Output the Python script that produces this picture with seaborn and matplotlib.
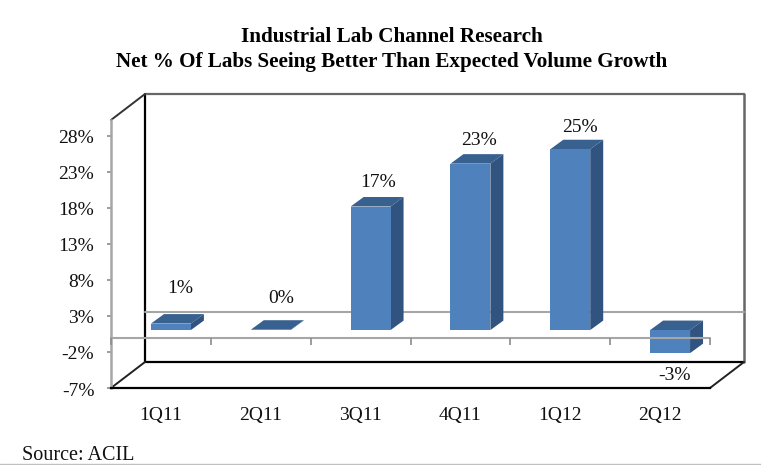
import matplotlib
matplotlib.use("Agg")
import matplotlib.pyplot as plt
from matplotlib.patches import Polygon
from matplotlib.transforms import ScaledTranslation
import seaborn as sns

quarters = ["1Q11", "2Q11", "3Q11", "4Q11", "1Q12", "2Q12"]
values = [0.9, 0.05, 17.15, 23.1, 25.1, -3.2]
value_labels = ["1%", "0%", "17%", "23%", "25%", "-3%"]
y_ticks = [-7, -2, 3, 8, 13, 18, 23, 28]
y_tick_labels = ["-7%", "-2%", "3%", "8%", "13%", "18%", "23%", "28%"]
title = "Industrial Lab Channel Research\nNet % Of Labs Seeing Better Than Expected Volume Growth"
source = "Source: ACIL"

W, H, DPI = 761, 465, 100
FRONT, TOP, SIDE = "#4f81bd", "#38618f", "#30547f"
GRID = "#a6a6a6"

sns.set_style("white")
plt.rcParams["font.family"] = ["Liberation Serif", "DejaVu Serif"]

fig = plt.figure(figsize=(W / DPI, H / DPI), dpi=DPI, facecolor="white")
L, B, AW, AH = 111, 388, 599, 268
ax = fig.add_axes([L / W, (H - B) / H, AW / W, AH / H])
ax.patch.set_alpha(0)

sns.barplot(x=quarters, y=values, color=FRONT, saturation=1, width=0.4, ax=ax,
            zorder=4, linewidth=0, edgecolor="none")
ax.set_xlim(-0.5, 5.5)
ax.set_ylim(-7, 30.2)

px_x = (5.5 + 0.5) / AW          # data units per pixel
px_y = (30.2 + 7) / AH


def shift(dx_px, dy_px):
    return ax.transData + ScaledTranslation(dx_px / DPI, dy_px / DPI, fig.dpi_scale_trans)


back = shift(34, 26)
bars = shift(10, 7.5)
xl, xr = ax.get_xlim()
yb, yt = ax.get_ylim()

# back wall
ax.plot([xl, xl], [yb, yt], color="black", lw=1.6, transform=back, clip_on=False, zorder=1)
ax.plot([xl, xr], [yb, yb], color="black", lw=1.6, transform=back, clip_on=False, zorder=1)
ax.plot([xl, xr], [yt, yt], color="#666666", lw=1.6, transform=back, clip_on=False, zorder=1)
ax.plot([xr, xr], [yb, yt], color="#666666", lw=1.8, transform=back, clip_on=False, zorder=1)
ax.plot([xl, xr], [0, 0], color=GRID, lw=1.5, transform=back, clip_on=False, zorder=1)

# depth edges
d_x, d_y = 34 * px_x, 26 * px_y
ax.plot([xl, xl + d_x], [yb, yb + d_y], color="#222222", lw=1.4, clip_on=False, zorder=1)
ax.plot([xr, xr + d_x], [yb, yb + d_y], color="#222222", lw=1.4, clip_on=False, zorder=1)
ax.plot([xl, xl + d_x], [yt, yt + d_y], color="#333333", lw=1.4, clip_on=False, zorder=1)

# bars with depth
b_dx, b_dy = 13 * px_x, 9.5 * px_y
for patch in list(ax.patches):
    x0, x1 = patch.get_x(), patch.get_x() + patch.get_width()
    low, high = sorted([patch.get_y(), patch.get_y() + patch.get_height()])
    patch.set_transform(bars)
    patch.set_clip_on(False)
    ax.add_patch(Polygon([(x0, high), (x1, high), (x1 + b_dx, high + b_dy), (x0 + b_dx, high + b_dy)],
                         closed=True, fc=TOP, ec="none", transform=bars, clip_on=False, zorder=3))
    ax.add_patch(Polygon([(x1, low), (x1, high), (x1 + b_dx, high + b_dy), (x1 + b_dx, low + b_dy)],
                         closed=True, fc=SIDE, ec="none", transform=bars, clip_on=False, zorder=3))

# front zero line with category ticks
ax.plot([xl, xr], [0, 0], color=GRID, lw=1.5, clip_on=False, zorder=5)
ax.vlines([i - 0.5 for i in range(len(quarters) + 1)], -7 * px_y, 0, color="#8c8c8c", lw=1.2, zorder=5, clip_on=False)

# value labels
label_offsets = [(9, 35), (10, 31), (8, 24), (9, 23), (10, 22), (4, -22)]
for i, (v, t, off) in enumerate(zip(values, value_labels, label_offsets)):
    ax.annotate(t, xy=(i, v), xycoords=bars, xytext=(off[0] * 0.72, off[1] * 0.72),
                textcoords="offset points", ha="center", va="center",
                fontsize=14, color="#111111", annotation_clip=False, zorder=6)

# axes
sns.despine(ax=ax, top=True, right=True)
ax.spines["left"].set_color(GRID)
ax.spines["left"].set_linewidth(1.8)
ax.spines["bottom"].set_color("black")
ax.spines["bottom"].set_linewidth(1.6)
ax.set_yticks(y_ticks)
ax.set_yticklabels(y_tick_labels, fontsize=14, color="#111111")
ax.tick_params(axis="y", left=True, length=3, width=1.2, color="#8c8c8c", pad=9)
nudge = ScaledTranslation(0, -1 / DPI, fig.dpi_scale_trans)
for lab in ax.get_yticklabels():
    lab.set_transform(lab.get_transform() + nudge)
ax.set_xticks(range(len(quarters)))
ax.set_xticklabels(quarters, fontsize=14, color="#111111")
ax.tick_params(axis="x", bottom=False, pad=10.5)

fig.text(391.5 / W, 1 - 49.5 / H, title, ha="center", va="center", fontsize=15.25,
         fontweight="bold", color="black", linespacing=1.34)
fig.text(22 / W, 1 - 455 / H, source, ha="left", va="center", fontsize=14.5, color="#111111")
fig.add_artist(plt.Line2D([0, 1], [1 / H, 1 / H], color="#c0c0c0", lw=1.0))

fig.savefig("out.png", dpi=DPI, facecolor="white")
